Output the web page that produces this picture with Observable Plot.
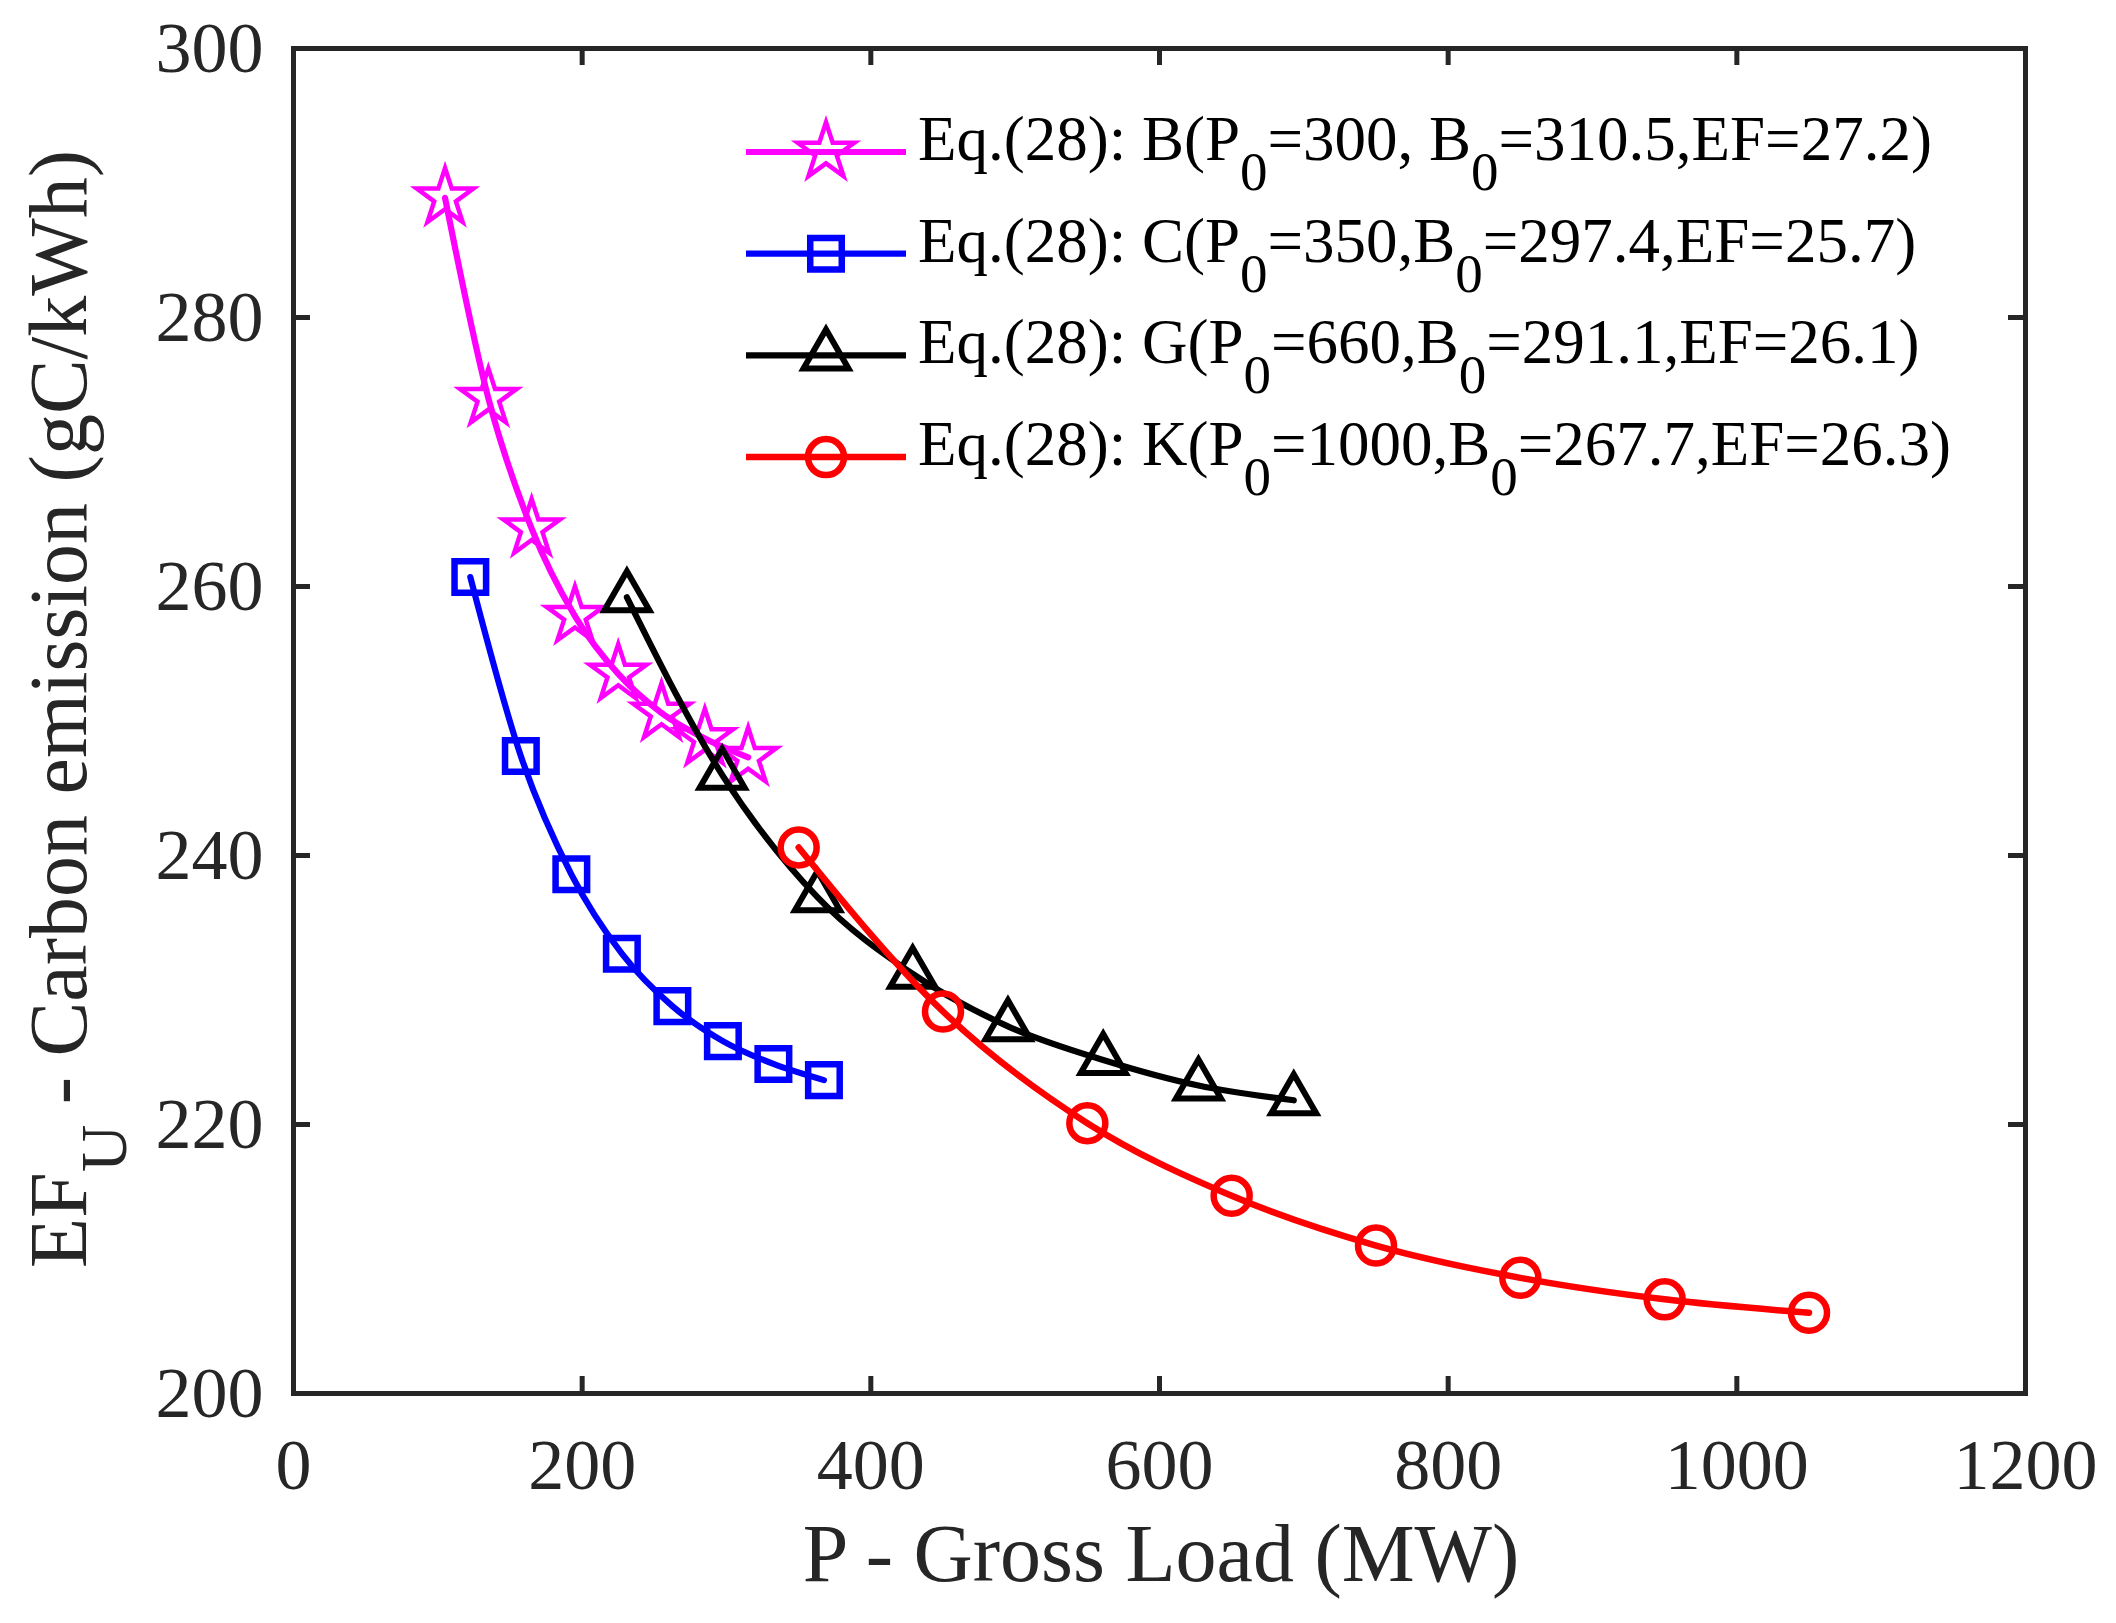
<!DOCTYPE html>
<html><head><meta charset="utf-8">
<script src="https://cdn.jsdelivr.net/npm/d3@7"></script>
<script src="https://cdn.jsdelivr.net/npm/@observablehq/plot@0.6"></script>
<style>
html,body{margin:0;padding:0;background:#fff;}
#wrap{position:relative;width:2116px;height:1623px;overflow:hidden;}
#wrap svg{position:absolute;left:0;top:0;}
</style></head><body><div id="wrap"></div>
<script>
// ---- data ----
const xTicks = [0, 200, 400, 600, 800, 1000, 1200];
const yTicks = [200, 220, 240, 260, 280, 300];
const seriesNames = ["B", "C", "G", "K"];
const loadB = [105, 135, 165, 195, 225, 255, 285, 315];
const efB   = [288.9, 274.0, 264.3, 257.8, 253.5, 250.6, 248.7, 247.3];
const loadC = [122.5, 157.5, 192.5, 227.5, 262.5, 297.5, 332.5, 367.5];
const efC   = [260.7, 247.4, 238.6, 232.7, 228.8, 226.2, 224.5, 223.3];
const loadG = [231, 297, 363, 429, 495, 561, 627, 693];
const efG   = [259.2, 246.0, 236.9, 231.2, 227.3, 224.8, 222.9, 221.8];
const loadK = [350, 450, 550, 650, 750, 850, 950, 1050];
const efK   = [240.6, 228.4, 220.1, 214.7, 211.0, 208.6, 207.0, 206.0];
const legendP0 = ["300", "350", "660", "1000"];
const legendB0 = ["310.5", "297.4", "291.1", "267.7"];
const legendEF = ["27.2", "25.7", "26.1", "26.3"];
const legendSep = [", ", ",", ",", ","];
const xTitle = "P - Gross Load (MW)";
const yTitleMain = "EF";
const yTitleSub = "U";
const yTitleRest = " - Carbon emission (gC/kWh)";

// ---- styles ----
const seriesColors = ["#ff00ff", "#0000ff", "#000000", "#ff0000"];
const seriesSymbols = ["star", "square", "triangle", "circle"];
const d3Symbols = [d3.symbolStar, d3.symbolSquare, d3.symbolTriangle, d3.symbolCircle];
const symbolR = [17.8, 17.8, 16.7, 18];
const symbolSW = [4.5, 6.5, 6, 6.5];
const lineSW = [6.2, 6.2, 6.2, 6.5];

const loads = [loadB, loadC, loadG, loadK];
const efs = [efB, efC, efG, efK];
const rowsBySeries = seriesNames.map((s, i) => loads[i].map((x, j) => ({series: s, x, y: efs[i][j]})));

const W = 2116, H = 1623;
const mL = 293, mR = 2116 - 2025, mT = 48, mB = 1623 - 1393;
const innerW = W - mL - mR, innerH = H - mT - mB;
const axisColor = "#262626";
const tick = 17;

const marks = [];
rowsBySeries.forEach((rows, i) => {
  marks.push(Plot.line(rows, {x: "x", y: "y", stroke: seriesColors[i], strokeWidth: lineSW[i], curve: "monotone-x"}));
  marks.push(Plot.dot(rows, {x: "x", y: "y", symbol: seriesSymbols[i], r: symbolR[i], stroke: seriesColors[i], fill: "none", strokeWidth: symbolSW[i]}));
});

const plot = Plot.plot({
  width: W, height: H,
  marginLeft: mL, marginRight: mR, marginTop: mT, marginBottom: mB,
  style: {fontFamily: "'Liberation Serif', 'Times New Roman', serif", fontSize: "72px", color: axisColor, background: "white"},
  x: {domain: [0, 1200], ticks: xTicks, label: null},
  y: {domain: [200, 300], ticks: yTicks, label: null},
  marks: [
    ...marks,
    Plot.tickX(xTicks, {x: d => d, stroke: axisColor, strokeWidth: 5, insetTop: innerH - tick}),
    Plot.tickX(xTicks, {x: d => d, stroke: axisColor, strokeWidth: 5, insetBottom: innerH - tick}),
    Plot.tickY(yTicks, {y: d => d, stroke: axisColor, strokeWidth: 5, insetRight: innerW - tick}),
    Plot.tickY(yTicks, {y: d => d, stroke: axisColor, strokeWidth: 5, insetLeft: innerW - tick}),
    Plot.frame({stroke: axisColor, strokeWidth: 5}),
    Plot.axisX(xTicks, {tickSize: 0, tickPadding: 44, fontSize: 72, tickFormat: d => String(d), label: null}),
    Plot.axisY(yTicks, {tickSize: 0, tickPadding: 30, fontSize: 72, tickFormat: d => String(d), label: null})
  ]
});
document.getElementById("wrap").appendChild(plot);

// ---- overlay: titles and legend ----
const ov = d3.select("#wrap").append("svg")
  .attr("width", W).attr("height", H)
  .style("pointer-events", "none")
  .style("font-family", "'Liberation Serif', 'Times New Roman', serif");

// x title
ov.append("text")
  .attr("x", (mL + W - mR) / 2 + 2).attr("y", 1581)
  .attr("text-anchor", "middle").attr("font-size", 82).attr("fill", axisColor)
  .text(xTitle);

// y title
const yt = ov.append("text")
  .attr("transform", `translate(86,709) rotate(-90)`)
  .attr("text-anchor", "middle").attr("font-size", 82).attr("fill", axisColor);
yt.append("tspan").text(yTitleMain);
yt.append("tspan").attr("font-size", 66).attr("dy", 40).text(yTitleSub);
yt.append("tspan").attr("dy", -40).text(yTitleRest);

// legend
const lgX0 = 746, lgX1 = 906, lgMk = 826, lgTx = 918, lgY0 = 152, lgDY = 101.7;
seriesNames.forEach((s, i) => {
  const y = lgY0 + i * lgDY;
  const g = ov.append("g");
  g.append("line").attr("x1", lgX0).attr("x2", lgX1).attr("y1", y).attr("y2", y)
    .attr("stroke", seriesColors[i]).attr("stroke-width", lineSW[i]);
  g.append("path").attr("transform", `translate(${lgMk},${y})`)
    .attr("d", d3.symbol(d3Symbols[i], Math.PI * symbolR[i] * symbolR[i])())
    .attr("fill", "none").attr("stroke", seriesColors[i]).attr("stroke-width", symbolSW[i]);
  const t = g.append("text").attr("x", lgTx).attr("y", y + 8).attr("font-size", 63).attr("fill", "#000");
  t.append("tspan").text(`Eq.(28): ${s}(P`);
  t.append("tspan").attr("font-size", 55).attr("dy", 30).text("0");
  t.append("tspan").attr("dy", -30).text(`=${legendP0[i]}${legendSep[i]}B`);
  t.append("tspan").attr("font-size", 55).attr("dy", 30).text("0");
  t.append("tspan").attr("dy", -30).text(`=${legendB0[i]},EF=${legendEF[i]})`);
});
</script>
</body></html>
